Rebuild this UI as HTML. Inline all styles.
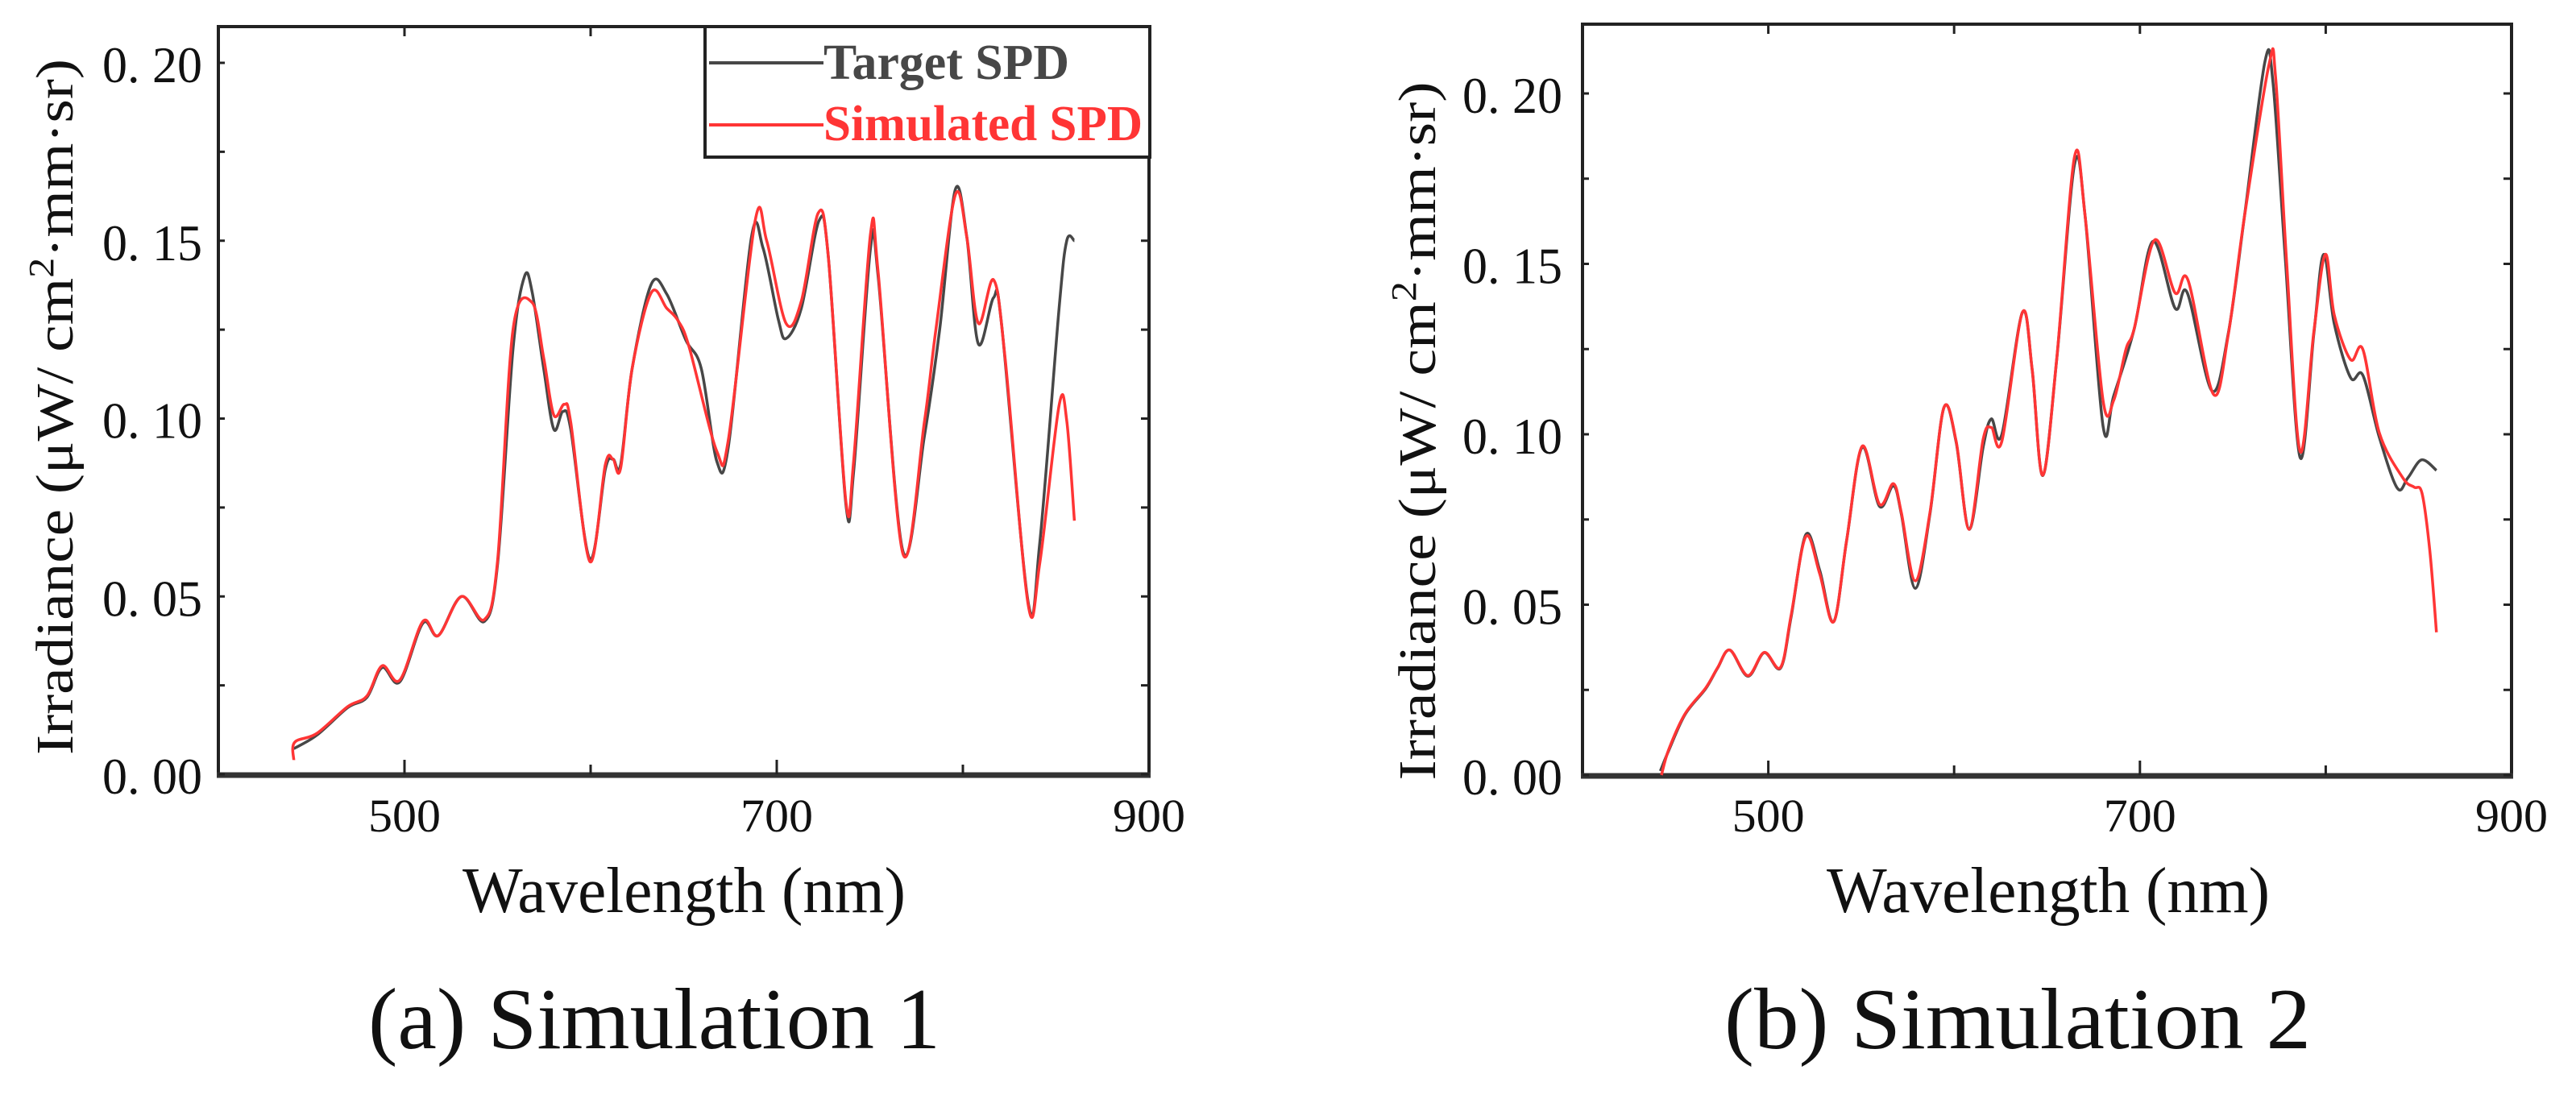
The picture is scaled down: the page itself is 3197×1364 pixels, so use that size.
<!DOCTYPE html>
<html><head><meta charset="utf-8"><style>
html,body{margin:0;padding:0;background:#fff;}
svg{display:block;}
text{font-family:"Liberation Serif","Noto Serif CJK SC",serif;}
</style></head><body>
<svg id="fig" width="3197" height="1364" viewBox="0 0 3197 1364" xmlns="http://www.w3.org/2000/svg"></svg>
<script>
// ---- Data (chart a) ----
const aTargetNm = [440.5,452.9,469.4,479.8,488,497.5,509.9,518.2,530.6,543,550,558.3,564.5,568.6,574.8,580.2,585.1,589.3,599.6,607.9,612,616.1,622.3,632.6,640.9,651.2,659.5,667.8,674,686.4,692.6,700.8,705,713.2,722.7,727.7,737.2,741.3,750.4,754.5,767.8,779.3,787.6,795.9,802.1,808.3,816.5,820.7,835.1,841.3,851.7,855.8,859.9];
const aTargetVal = [0.0072,0.011,0.0187,0.0216,0.030,0.026,0.0425,0.039,0.050,0.043,0.059,0.1196,0.140,0.1355,0.114,0.097,0.102,0.097,0.0605,0.0857,0.0886,0.087,0.114,0.1378,0.135,0.122,0.114,0.088,0.092,0.151,0.148,0.128,0.1225,0.131,0.1556,0.1455,0.0757,0.085,0.148,0.1398,0.0627,0.095,0.1254,0.1643,0.151,0.121,0.134,0.127,0.0483,0.065,0.131,0.150,0.150];
const aSimNm = [440.5,441,452.9,469.4,479.8,488,497.5,509.9,518.2,530.6,543,550,558.3,568.6,574.8,580.2,585.9,589.3,599.6,607.9,612,616.1,622.3,632.6,640.9,647,653,667.8,674,688.4,694.6,705,713.2,722.3,727.7,737.2,741.3,750.4,754.5,767.8,779.3,785.5,795.9,802.1,808.3,816.5,822.7,835.1,841.3,851.7,855.8,859.9];
const aSimVal = [0.004,0.009,0.0115,0.019,0.022,0.0305,0.0265,0.043,0.039,0.050,0.0435,0.060,0.125,0.1326,0.117,0.101,0.104,0.099,0.0598,0.087,0.0886,0.086,0.114,0.1354,0.131,0.1275,0.120,0.0908,0.094,0.1556,0.150,0.1268,0.133,0.1578,0.1455,0.0765,0.088,0.152,0.141,0.0620,0.099,0.125,0.1628,0.151,0.1268,0.139,0.117,0.0476,0.0593,0.1037,0.0994,0.0713];
// ---- Data (chart b) ----
const bTargetNm = [441.9,446.4,455.2,466.2,472.7,479.3,489,497.8,506.6,512.3,520.2,527.7,535.2,542.2,550.5,559.8,567.3,571.6,579.1,587,594.5,601.1,608.1,615.6,620,625.7,636.7,642,647.7,655.2,664.8,670.5,680.2,685.9,696.9,707,718.9,725.5,738.7,747.5,756.3,767.3,771.6,778.2,786.2,793.6,798.9,804.6,813.4,820,828.8,838.5,844.2,851.6,859.6];
const bTargetVal = [0.0012,0.0072,0.0178,0.0253,0.0314,0.0367,0.029,0.0359,0.0314,0.0465,0.0706,0.060,0.045,0.069,0.0962,0.0789,0.0849,0.0766,0.0548,0.0766,0.1078,0.0977,0.0721,0.0962,0.1045,0.100,0.1357,0.1189,0.0879,0.1219,0.1792,0.164,0.1023,0.1113,0.1309,0.1566,0.137,0.1415,0.1128,0.1294,0.1641,0.2094,0.2033,0.152,0.0932,0.1294,0.1528,0.1324,0.1166,0.1173,0.0992,0.0842,0.0872,0.0925,0.0894];
const bSimNm = [442.5,446.4,455.2,466.2,472.7,479.3,489,497.8,506.6,512.3,520.2,527.7,535.2,542.2,550.5,559.8,567.3,571.6,579.1,587,594.5,601.1,608.1,615.6,620,625.7,636.7,642,647.7,655.2,664.8,670.5,680.2,685.9,692.5,696.9,707.9,718.9,725.9,739.5,747.5,756.3,769.5,773,779,786.2,793.6,799.8,804.6,813.4,820,828.8,841.5,847.6,851.8,856,859.6];
const bSimVal = [0.0,0.0075,0.018,0.0255,0.0315,0.0367,0.0292,0.036,0.0316,0.047,0.070,0.059,0.045,0.069,0.0965,0.0795,0.0855,0.077,0.057,0.077,0.1078,0.098,0.0721,0.0985,0.102,0.098,0.1357,0.119,0.088,0.122,0.1814,0.164,0.1098,0.1100,0.125,0.131,0.157,0.1415,0.1452,0.1118,0.129,0.164,0.2086,0.2050,0.150,0.095,0.130,0.1528,0.135,0.1219,0.1249,0.1005,0.0872,0.0845,0.0827,0.066,0.0419];
const xTicks = [500,600,700,800,900];
const xTickLabels = ["500","700","900"];
const yTicksA = [0,0.05,0.10,0.15,0.20];
const yTickLabels = ["0. 00","0. 05","0. 10","0. 15","0. 20"];

const svg = document.getElementById('fig');
const NS = 'http://www.w3.org/2000/svg';
function mk(tag, attrs, parent){ const e=document.createElementNS(NS,tag); for(const k in attrs) e.setAttribute(k,attrs[k]); (parent||svg).appendChild(e); return e; }

function pathFrom(nms, vals, sx, sy){
  const p = nms.map((n,i)=>[sx(n), sy(vals[i])]);
  let d = 'M'+p[0][0].toFixed(1)+','+p[0][1].toFixed(1);
  for(let i=0;i<p.length-1;i++){
    const p0=p[Math.max(0,i-1)], p1=p[i], p2=p[i+1], p3=p[Math.min(p.length-1,i+2)];
    const c1x=p1[0]+(p2[0]-p0[0])/6, c1y=p1[1]+(p2[1]-p0[1])/6;
    const c2x=p2[0]-(p3[0]-p1[0])/6, c2y=p2[1]-(p3[1]-p1[1])/6;
    d+=' C'+c1x.toFixed(1)+','+c1y.toFixed(1)+' '+c2x.toFixed(1)+','+c2y.toFixed(1)+' '+p2[0].toFixed(1)+','+p2[1].toFixed(1);
  }
  return d;
}

function chart(cfg){
  const g = mk('g',{});
  
  
  const sx = n => cfg.L + (n-400)/500*(cfg.R-cfg.L);
  const sy = v => cfg.y0 - v/0.05*cfg.per;
  // frame
  const fr = mk('rect',{x:cfg.L,y:cfg.T,width:cfg.R-cfg.L,height:cfg.y0-cfg.T,fill:'none',stroke:'#222','stroke-width':4},g);
  
  
  const bl = mk('line',{x1:cfg.L-2,x2:cfg.R+2,y1:cfg.y0+1,y2:cfg.y0+1,stroke:'#333','stroke-width':7},g);
  
  
  // x ticks
  xTicks.forEach((t,i)=>{
    const x=sx(t); const len = (i%2===0)?18:12;
    if(t<900){
      const tk=mk('line',{x1:x,x2:x,y1:cfg.y0,y2:cfg.y0-len,stroke:'#222','stroke-width':3},g);
      
      
      const tt=mk('line',{x1:x,x2:x,y1:cfg.T,y2:cfg.T+12,stroke:'#222','stroke-width':3},g);
      
      
    }
  });
  xTickLabels.forEach(s=>{
    const t=mk('text',{x:sx(+s),y:1032,'font-size':58,'text-anchor':'middle',textLength:90,lengthAdjust:'spacingAndGlyphs',fill:'#111'},g);
    t.textContent=s;
    
    
  });
  // y ticks
  for(let v=0; v<=cfg.ymax+1e-9; v+=0.025){
    const y=sy(v);
    const tk=mk('line',{x1:cfg.R,x2:cfg.R-10,y1:y,y2:y,stroke:'#222','stroke-width':3},g);
    
    
    const tl=mk('line',{x1:cfg.L,x2:cfg.L+8,y1:y,y2:y,stroke:'#222','stroke-width':3},g);
    
    
  }
  yTicksA.forEach((v,i)=>{
    const t=mk('text',{x:cfg.ylabR,y:sy(v)+24,'font-size':64,'text-anchor':'end',textLength:124,lengthAdjust:'spacingAndGlyphs',fill:'#111'},g);
    t.textContent=yTickLabels[i];
    
    
  });
  // y title
  const yt=mk('text',{x:0,y:0,'font-size':66,'text-anchor':'middle',textLength:cfg.ytLen,lengthAdjust:'spacingAndGlyphs',fill:'#111',transform:`translate(${cfg.ytX},${cfg.ytY}) rotate(-90)`},g);
  yt.innerHTML='Irradiance (μW/ cm<tspan dy="-24" font-size="44">2</tspan><tspan dy="24">·mm·sr)</tspan>';
  
  
  // x title
  const xt=mk('text',{x:cfg.xtX,y:1132,'font-size':80,textLength:cfg.xtLen,lengthAdjust:'spacingAndGlyphs',fill:'#111'},g);
  xt.textContent='Wavelength (nm)';
  
  
  // caption
  const cp=mk('text',{x:cfg.capX,y:1301,'font-size':108,textLength:cfg.capLen,lengthAdjust:'spacingAndGlyphs',fill:'#111'},g);
  cp.textContent=cfg.caption;
  
  
  // series
  const s1=mk('path',{d:pathFrom(cfg.tn,cfg.tv,sx,sy),fill:'none',stroke:'#474747','stroke-width':3.5,'stroke-linejoin':'round'},g);
  
  
  const s2=mk('path',{d:pathFrom(cfg.sn,cfg.sv,sx,sy),fill:'none',stroke:'#ff3535','stroke-width':3.5,'stroke-linejoin':'round'},g);
  
  
  return g;
}

chart({name:'chart-simulation-1',L:271,R:1426,T:33,y0:961,per:220.75,ymax:0.21,ylabR:251,ytX:90,ytY:505,ytLen:864,xtX:574,xtLen:550,capX:457,capLen:710,caption:'(a) Simulation 1',tn:aTargetNm,tv:aTargetVal,sn:aSimNm,sv:aSimVal});
chart({name:'chart-simulation-2',L:1964,R:3117,T:30,y0:962,per:211.5,ymax:0.22,ylabR:1939,ytX:1781,ytY:535,ytLen:867,xtX:2267,xtLen:550,capX:2140,capLen:728,caption:'(b) Simulation 2',tn:bTargetNm,tv:bTargetVal,sn:bSimNm,sv:bSimVal});

// legend
const lg = mk('g',{});


const lb=mk('rect',{x:875,y:33,width:552,height:162,fill:'#fff',stroke:'#222','stroke-width':4},lg);


const l1=mk('line',{x1:880,x2:1022,y1:78,y2:78,stroke:'#474747','stroke-width':4},lg);


const t1=mk('text',{x:1022,y:98,'font-size':62,'font-weight':'bold',textLength:305,lengthAdjust:'spacingAndGlyphs',fill:'#474747'},lg);
t1.textContent='Target SPD';


const l2=mk('line',{x1:880,x2:1022,y1:155,y2:155,stroke:'#ff3535','stroke-width':4},lg);


const t2=mk('text',{x:1022,y:174,'font-size':62,'font-weight':'bold',textLength:396,lengthAdjust:'spacingAndGlyphs',fill:'#ff3535'},lg);
t2.textContent='Simulated SPD';


</script>
</body></html>
